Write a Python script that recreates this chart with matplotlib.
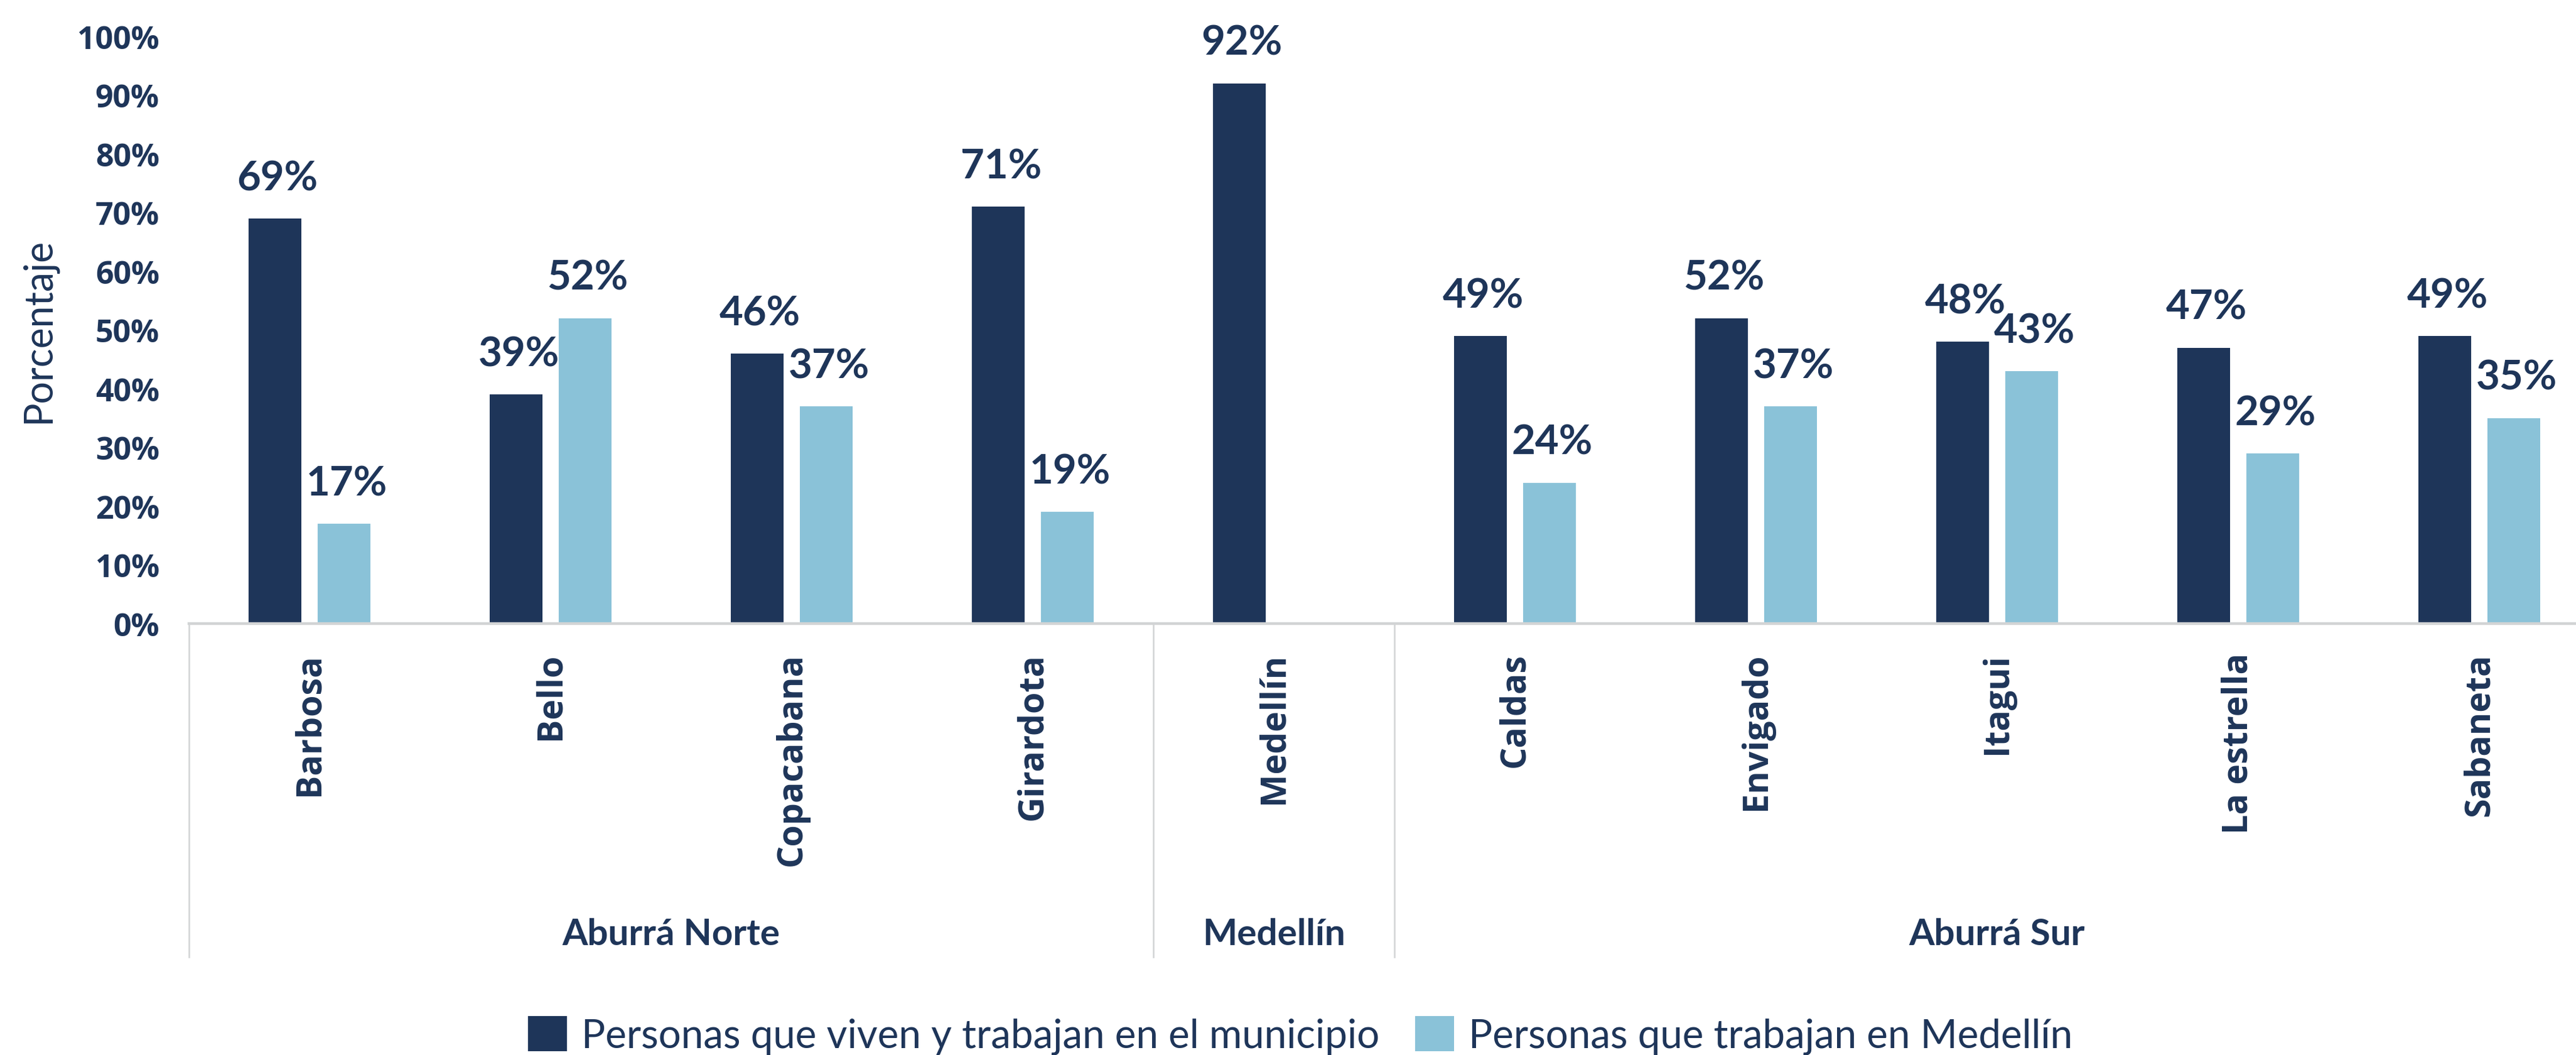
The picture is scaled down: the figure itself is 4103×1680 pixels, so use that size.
import numpy as np
import matplotlib
matplotlib.use("Agg")
import matplotlib.pyplot as plt
from matplotlib.patches import Patch
from matplotlib.transforms import blended_transform_factory

# Data
municipios = ["Barbosa", "Bello", "Copacabana", "Girardota", "Medellín",
              "Caldas", "Envigado", "Itagui", "La estrella", "Sabaneta"]
viven_trabajan = [69, 39, 46, 71, 92, 49, 52, 48, 47, 49]
trabajan_medellin = [17, 52, 37, 19, np.nan, 24, 37, 43, 29, 35]
subregiones = ["Aburrá Norte", "Medellín", "Aburrá Sur"]
subregion_sizes = [4, 1, 5]
yticks = [0, 10, 20, 30, 40, 50, 60, 70, 80, 90, 100]
series_names = ["Personas que viven y trabajan en el municipio",
                "Personas que trabajan en Medellín"]

NAVY = "#1E3559"
LIGHT = "#8AC2D8"
GRID = "#D2D4D5"
FONT = ["Lato", "DejaVu Sans"]
WIDE = ["Open Sans", "DejaVu Sans"]

plt.rcParams["font.family"] = FONT

W, H = 4103, 1681
fig = plt.figure(figsize=(W / 100, H / 100), dpi=100)
fig.patch.set_facecolor("white")

ax_left, ax_width = 301 / W, 3840 / W
ax_bottom, ax_height = (H - 994) / H, 935 / H
ax = fig.add_axes([ax_left, ax_bottom, ax_width, ax_height])

x = np.arange(len(municipios))
bw = 0.219
off = 0.143
ax.bar(x - off, viven_trabajan, width=bw, color=NAVY, zorder=3)
ax.bar(x + off, trabajan_medellin, width=bw, color=LIGHT, zorder=3)

ax.set_xlim(-0.5, len(municipios) - 0.5)
ax.set_ylim(0, 100)

# Value labels
for xs, vals in ((x - off, viven_trabajan), (x + off, trabajan_medellin)):
    for xi, v in zip(xs, vals):
        if np.isnan(v):
            continue
        ax.annotate(f"{v:.0f}%", (xi, v), xytext=(3, 33), textcoords="offset points",
                    ha="center", va="baseline", fontsize=47, fontweight="bold",
                    color=NAVY, clip_on=False, zorder=4)

# Y axis
ax.set_yticks(yticks)
ax.set_yticklabels([f"{t}%" for t in yticks])
ax.tick_params(axis="y", length=0, pad=34, labelsize=36, labelcolor=NAVY)
for lab in ax.get_yticklabels():
    lab.set_fontweight("bold")
    lab.set_family(WIDE)
ax.set_ylabel("Porcentaje", fontsize=45, color=NAVY, fontweight="normal")
ax.yaxis.set_label_coords(-0.055, 0.5)

# Spines / bottom axis
for s in ("top", "right", "left"):
    ax.spines[s].set_visible(False)
ax.spines["bottom"].set_color(GRID)
ax.spines["bottom"].set_linewidth(3.2)
ax.spines["bottom"].set_zorder(5)
ax.set_xticks([])

trans = blended_transform_factory(ax.transData, ax.transAxes)
px = 1 / 935  # one pixel in axes-height fraction

# Category labels (rotated)
for xi, name in zip(x, municipios):
    ax.text(xi, -46 * px, name, transform=trans, rotation=90, ha="center", va="top",
            fontsize=40, fontweight="bold", family=WIDE, color=NAVY, clip_on=False)

# Group separators and labels
start = 0
bounds = [-0.5]
for size in subregion_sizes:
    start += size
    bounds.append(start - 0.5)
for b in bounds:
    ax.plot([b, b], [0, -531 * px], transform=trans, color=GRID, lw=1.8,
            clip_on=False, zorder=2)
for name, lo, hi in zip(subregiones, bounds[:-1], bounds[1:]):
    ax.text((lo + hi) / 2, -495 * px, name, transform=trans, ha="center", va="center",
            fontsize=42, fontweight="bold", color=NAVY, clip_on=False)

# Legend
handles = [Patch(facecolor=NAVY, edgecolor="none"), Patch(facecolor=LIGHT, edgecolor="none")]
leg = fig.legend(handles, series_names, loc="upper left",
                 bbox_to_anchor=(841 / W, 1 - 1619 / H), ncol=2, frameon=False,
                 fontsize=45.8, borderpad=0, borderaxespad=0,
                 handlelength=0.98, handleheight=0.98, handletextpad=0.35,
                 columnspacing=0.9)
for t in leg.get_texts():
    t.set_color(NAVY)

fig.savefig("out.png", dpi=100, facecolor="white")
